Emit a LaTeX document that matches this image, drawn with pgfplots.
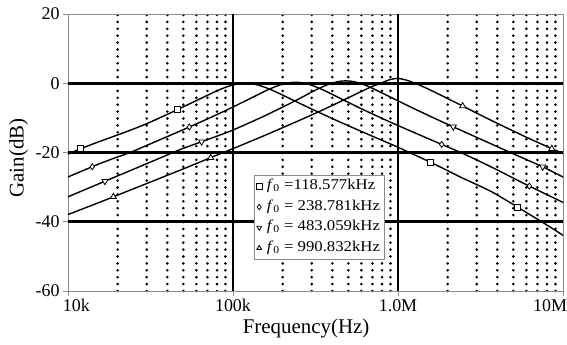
\documentclass[border=0pt]{standalone}
\usepackage{fontspec}
\setmainfont{Liberation Serif}
\usepackage{graphicx}
\usepackage{pgfplots}
\pgfplotsset{compat=1.18}
\usepackage{pgfplotstable}
\newcommand{\legtext}[1]{\hspace{3bp}\scalebox{1.12}[1]{#1}\hspace{6bp}}

% x = log10(frequency in Hz), y = gain in dB
\pgfplotstableread{
lf g
3.974 -20.97
4.074 -18.96
4.174 -17.13
4.274 -15.39
4.374 -13.63
4.474 -11.74
4.574 -9.59
4.674 -7.38
4.774 -5.10
4.874 -2.81
4.924 -1.75
4.974 -0.85
5.024 -0.23
5.074 0.00
5.124 -0.23
5.174 -0.85
5.224 -1.75
5.274 -2.81
5.374 -5.10
5.474 -7.38
5.574 -9.59
5.674 -11.74
5.774 -13.83
5.874 -15.89
5.974 -17.93
6.074 -20.10
6.174 -22.30
6.274 -24.60
6.374 -27.00
6.474 -29.20
6.574 -31.50
6.674 -34.30
6.774 -37.20
6.874 -40.10
6.974 -43.10
7.074 -46.20
}\sqdata
\pgfplotstableread{
lf g
3.978 -27.49
4.078 -25.49
4.178 -23.48
4.278 -21.67
4.378 -19.96
4.478 -17.93
4.578 -15.89
4.678 -13.83
4.778 -11.74
4.878 -9.59
4.978 -7.36
5.078 -5.03
5.178 -2.65
5.228 -1.54
5.278 -0.59
5.328 0.06
5.378 0.30
5.428 0.06
5.478 -0.59
5.528 -1.54
5.578 -2.65
5.678 -5.03
5.778 -7.36
5.878 -9.59
5.978 -11.74
6.078 -13.83
6.178 -15.89
6.278 -17.93
6.378 -19.96
6.478 -22.17
6.578 -24.48
6.678 -26.89
6.778 -29.29
6.878 -31.60
6.978 -33.90
7.078 -36.30
}\didata
\pgfplotstableread{
lf g
3.984 -33.10
4.084 -31.10
4.184 -29.10
4.284 -27.09
4.384 -25.09
4.484 -23.08
4.584 -21.07
4.684 -19.06
4.784 -17.33
4.884 -15.59
4.984 -13.83
5.084 -11.74
5.184 -9.59
5.284 -7.28
5.384 -4.90
5.484 -2.36
5.534 -1.20
5.584 -0.23
5.634 0.45
5.684 0.70
5.734 0.45
5.784 -0.23
5.834 -1.20
5.884 -2.36
5.984 -4.70
6.084 -7.03
6.184 -9.29
6.284 -11.49
6.384 -13.63
6.484 -15.79
6.584 -17.93
6.684 -20.06
6.784 -22.17
6.884 -24.28
6.984 -26.69
7.084 -29.09
}\tddata
\pgfplotstableread{
lf g
3.896 -39.90
3.996 -38.00
4.096 -36.15
4.196 -34.30
4.296 -32.40
4.396 -30.50
4.496 -28.60
4.596 -26.69
4.696 -24.79
4.796 -22.83
4.896 -20.87
4.996 -18.96
5.096 -16.98
5.196 -14.99
5.296 -12.93
5.396 -10.86
5.496 -8.74
5.596 -6.53
5.696 -4.25
5.796 -1.96
5.846 -0.90
5.896 0.00
5.946 0.98
5.996 1.40
6.046 0.98
6.096 0.15
6.146 -0.85
6.196 -1.96
6.296 -4.30
6.396 -6.68
6.496 -9.09
6.596 -11.44
6.696 -13.73
6.796 -15.99
6.896 -18.13
6.996 -20.21
7.096 -22.27
}\tudata

\pgfplotstableread{
lf g
4.077 -18.90
4.662 -7.64
6.198 -22.85
6.725 -35.80
}\sqmarks
\pgfplotstableread{
lf g
4.147 -24.10
4.735 -12.64
6.265 -17.66
6.796 -29.70
}\dimarks
\pgfplotstableread{
lf g
4.224 -28.30
4.810 -16.88
6.335 -12.58
6.877 -24.13
}\tdmarks
\pgfplotstableread{
lf g
4.275 -32.80
4.865 -21.50
6.392 -6.58
6.932 -18.90
}\tumarks

\begin{document}
\begin{tikzpicture}
\useasboundingbox (-68bp,-54bp) rectangle (499bp,291bp);
\begin{axis}[
  at={(0,0)}, anchor=south west,
  scale only axis, width=495bp, height=277bp,
  xmin=4, xmax=7, ymin=-60, ymax=20,
  axis line style={black!45, line width=0.8bp},
  xtick={4,5,6,7},
  xticklabels={\makebox[0pt][l]{\hspace{-5bp}10k},100k,1.0M,\makebox[0pt][r]{10M\hspace{-4bp}}},
  ytick={-60,-40,-20,0,20},
  yticklabels={-60,-40,-20,0,20},
  minor xtick={4.30103,4.47712,4.60206,4.69897,4.77815,4.84510,4.90309,4.95424,
               5.30103,5.47712,5.60206,5.69897,5.77815,5.84510,5.90309,5.95424,
               6.30103,6.47712,6.60206,6.69897,6.77815,6.84510,6.90309,6.95424},
  xminorgrids=true,
  minor grid style={black, line width=2.9bp, dash pattern=on 0bp off 6.9bp, line cap=round},
  minor tick length=0pt,
  extra x ticks={5,6}, extra x tick labels={},
  extra x tick style={xmajorgrids=true, major tick length=0pt},
  extra y ticks={-40,-20,0}, extra y tick labels={},
  extra y tick style={ymajorgrids=true, major tick length=0pt},
  major grid style={black, line width=2.6bp},
  tick style={black!45, line width=0.8bp},
  tick align=outside, major tick length=5bp,
  xtick pos=left, ytick pos=left,
  tick label style={font=\fontsize{18}{20}\selectfont},
  label style={font=\fontsize{21}{23}\selectfont},
  xlabel={Frequency(Hz)},
  ylabel={Gain(dB)},
  xlabel style={at={(axis description cs:0.481,-0.134)}, anchor=center},
  ylabel style={at={(axis description cs:-0.1,0.48)}, anchor=center},
  legend style={at={(axis description cs:0.376,0.419)}, anchor=north west,
    draw=black!45, fill=white, font=\fontsize{15}{17}\selectfont,
    inner xsep=2bp, inner ysep=2.5bp, row sep=3bp, line width=0.8bp,
    nodes={text height=10bp, text depth=3.5bp}},
  legend image post style={mark size=2.7bp},
  legend cell align=left,
]
\addplot[black, line width=1.4bp, smooth, forget plot] table[x=lf,y=g]{\sqdata};
\addplot[black, line width=1.4bp, smooth, forget plot] table[x=lf,y=g]{\didata};
\addplot[black, line width=1.4bp, smooth, forget plot] table[x=lf,y=g]{\tddata};
\addplot[black, line width=1.4bp, smooth, forget plot] table[x=lf,y=g]{\tudata};

\addplot[only marks, mark=square*, mark size=3bp, mark options={fill=white, draw=black, line width=0.8bp}] table[x=lf,y=g]{\sqmarks};
\addlegendentry{\legtext{\textit{f}\textsubscript{0} =118.577kHz}}
\addplot[only marks, mark=diamond*, mark size=3bp, mark options={fill=white, draw=black, line width=0.8bp}] table[x=lf,y=g]{\dimarks};
\addlegendentry{\legtext{\textit{f}\textsubscript{0} = 238.781kHz}}
\addplot[only marks, mark=triangle*, mark size=3.5bp, mark options={fill=white, draw=black, line width=0.8bp, rotate=180}] table[x=lf,y=g]{\tdmarks};
\addlegendentry{\legtext{\textit{f}\textsubscript{0} = 483.059kHz}}
\addplot[only marks, mark=triangle*, mark size=3.5bp, mark options={fill=white, draw=black, line width=0.8bp}] table[x=lf,y=g]{\tumarks};
\addlegendentry{\legtext{\textit{f}\textsubscript{0} = 990.832kHz}}
\end{axis}
\end{tikzpicture}
\end{document}
